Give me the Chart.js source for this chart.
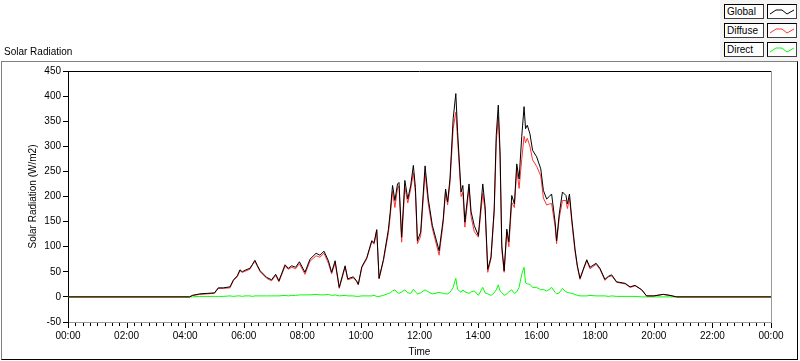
<!DOCTYPE html>
<html>
<head>
<meta charset="utf-8">
<script src="https://cdn.jsdelivr.net/npm/chart.js@4.4.1/dist/chart.umd.min.js"></script>
<style>
  body { margin: 0; background: #fff; }
  #wrap { position: relative; width: 800px; height: 361px; overflow: hidden;
          font-family: 'Liberation Sans', Arial, sans-serif; font-size: 10px; color: #000; }
  #chart { position: absolute; left: 0; top: 0; }
  .panel { position: absolute; left: 1px; top: 61px; width: 797px; height: 299px; box-sizing: border-box;
           border-top: 1px solid #808080; border-left: 1px solid #808080;
           border-right: 1px solid #000; border-bottom: 1px solid #000; pointer-events: none; }
  .graphName { position: absolute; left: 4px; top: 46px; }
  .legendBg { position: absolute; left: 720px; top: 0; width: 80px; height: 61px; background: #f4f4f4; }
  .lgName, .lgLine { position: absolute; box-sizing: border-box; height: 15px; background: #fff;
           border-top: 1px solid #000; border-left: 1px solid #000;
           border-right: 1px solid #404040; border-bottom: 1px solid #404040; }
  .lgName { left: 724px; width: 40px; padding: 1px 0 0 2px; line-height: 12px; }
  .lgLine { left: 767px; width: 30px; }
  .lgLine svg { display: block; }
</style>
</head>
<body>
<div id="wrap">
  <canvas id="chart" width="800" height="361"></canvas>
  <div class="panel"></div>
  <div class="graphName">Solar Radiation</div>
  <div class="legendBg"></div>
  <div id="legend"></div>
</div>
<script>
// time of day in hours
const times = [
  0, 4.15, 4.25, 4.5, 4.75, 5.0, 5.13, 5.3, 5.53, 5.65,
  5.78, 5.87, 5.95, 6.04, 6.21, 6.3, 6.38, 6.47, 6.56, 6.78,
  6.95, 7.09, 7.2, 7.41, 7.52, 7.64, 7.77, 7.9, 8.09, 8.26,
  8.47, 8.6, 8.74, 8.89, 9.0, 9.12, 9.26, 9.46, 9.55, 9.74,
  9.85, 9.91, 10.03, 10.2, 10.37, 10.45, 10.54, 10.62, 10.77, 10.94,
  11.0, 11.08, 11.16, 11.25, 11.3, 11.39, 11.5, 11.6, 11.7, 11.79,
  11.86, 11.93, 12.04, 12.19, 12.3, 12.44, 12.67, 12.81, 12.89, 12.96,
  13.04, 13.15, 13.24, 13.3, 13.42, 13.48, 13.55, 13.69, 13.76, 13.87,
  14.01, 14.16, 14.24, 14.33, 14.44, 14.55, 14.62, 14.69, 14.75, 14.81,
  14.89, 14.98, 15.05, 15.15, 15.24, 15.32, 15.4, 15.49, 15.57, 15.62,
  15.68, 15.77, 15.86, 16.0, 16.14, 16.23, 16.34, 16.43, 16.51, 16.63,
  16.68, 16.77, 16.88, 17.0, 17.05, 17.12, 17.2, 17.31, 17.39, 17.48,
  17.59, 17.71, 17.82, 18.03, 18.16, 18.33, 18.45, 18.56, 18.73, 19.02,
  19.19, 19.36, 19.59, 19.75, 20.0, 20.32, 20.55, 20.78, 24
];

const globalW = [
  0, 0, 3, 6, 7, 8, 18, 18, 20, 34,
  42, 54, 50, 53, 57, 65, 73, 62, 52, 39,
  34, 45, 32, 64, 57, 62, 59, 70, 49, 75,
  87, 83, 91, 72, 49, 72, 19, 62, 36, 40,
  32, 25, 60, 78, 112, 108, 134, 37, 75, 135,
  169, 222, 192, 225, 228, 119, 232, 195, 222, 262,
  218, 112, 129, 261, 195, 142, 92, 155, 215, 189,
  235, 355, 405, 329, 209, 222, 149, 225, 170, 142,
  122, 225, 180, 55, 79, 175, 322, 382, 289, 102,
  52, 135, 110, 202, 185, 265, 235, 319, 379, 335,
  342, 325, 292, 279, 255, 212, 195, 200, 205, 149,
  112, 165, 209, 202, 185, 205, 155, 95, 62, 37,
  55, 74, 59, 67, 57, 35, 41, 44, 30, 27,
  20, 23, 14, 2, 2, 5, 3, 0, 0
];

const diffuseW = [
  0, 0, 3, 5, 6, 7, 17, 17, 18, 33,
  40, 52, 49, 51, 55, 64, 71, 60, 50, 37,
  32, 43, 30, 61, 55, 59, 56, 66, 45, 71,
  82, 79, 87, 67, 46, 68, 17, 59, 34, 38,
  31, 24, 58, 76, 110, 105, 133, 36, 72, 128,
  161, 210, 178, 217, 221, 109, 218, 187, 215, 247,
  208, 106, 121, 247, 185, 136, 83, 148, 209, 183,
  226, 336, 368, 314, 200, 208, 139, 218, 160, 130,
  119, 206, 172, 49, 76, 167, 308, 358, 277, 93,
  49, 129, 100, 188, 178, 255, 216, 274, 320, 307,
  316, 300, 273, 260, 241, 197, 183, 185, 186, 140,
  106, 157, 192, 192, 176, 197, 148, 90, 59, 35,
  53, 72, 56, 65, 55, 33, 40, 42, 29, 26,
  19, 22, 14, 2, 2, 5, 3, 0, 0
];

const directW = [
  0, 0, 0, 1, 1, 1, 1, 1, 2, 1,
  2, 2, 1, 2, 2, 1, 2, 2, 2, 2,
  2, 2, 2, 3, 2, 3, 3, 4, 4, 4,
  5, 4, 4, 5, 3, 4, 2, 3, 2, 2,
  1, 1, 2, 2, 2, 3, 1, 1, 3, 7,
  8, 12, 14, 8, 7, 10, 14, 8, 7, 15,
  10, 6, 8, 14, 10, 6, 9, 7, 6, 6,
  9, 19, 37, 15, 9, 14, 10, 7, 10, 12,
  3, 19, 8, 6, 3, 8, 14, 24, 12, 9,
  3, 6, 10, 14, 7, 10, 19, 45, 59, 28,
  26, 25, 19, 19, 14, 15, 12, 15, 19, 9,
  6, 8, 17, 10, 9, 8, 7, 5, 3, 2,
  2, 2, 3, 2, 2, 2, 1, 2, 1, 1,
  1, 1, 0, 0, 0, 0, 0, 0, 0
];

const seriesNames = ['Global', 'Diffuse', 'Direct'];
const seriesColors = ['#000000', '#ff3333', '#00ff00'];
const yTicks = [-50, 0, 50, 100, 150, 200, 250, 300, 350, 400, 450];

const font = { family: "'Liberation Sans', Arial, sans-serif", size: 10 };

function pts(vals) {
  return times.map((t, i) => ({ x: t, y: vals[i] }));
}

function hhmm(v) {
  const h = Math.round(v) % 24;
  return (h < 10 ? '0' : '') + h + ':00';
}

// top/right edge of the plot and the 15 minute ticks on the time axis
const plotFrame = {
  id: 'plotFrame',
  afterDraw(chart) {
    const ctx = chart.ctx;
    const a = chart.chartArea;
    const x = chart.scales.x;
    ctx.save();
    ctx.lineWidth = 1;
    ctx.strokeStyle = '#000';
    ctx.beginPath();
    ctx.moveTo(a.left, a.top + 0.5);
    ctx.lineTo(a.right, a.top + 0.5);
    ctx.stroke();
    ctx.strokeStyle = '#999';
    ctx.beginPath();
    ctx.moveTo(a.right + 0.5, a.top);
    ctx.lineTo(a.right + 0.5, a.bottom + 1);
    ctx.stroke();
    ctx.strokeStyle = '#000';
    for (let m = 0; m <= 24 * 60; m += 15) {
      const px = Math.round(x.getPixelForValue(m / 60)) + 0.5;
      const len = m % 120 === 0 ? 5 : 3;
      ctx.beginPath();
      ctx.moveTo(px, a.bottom + 1);
      ctx.lineTo(px, a.bottom + 1 + len);
      ctx.stroke();
    }
    ctx.restore();
  }
};

const ctx = document.getElementById('chart').getContext('2d');
new Chart(ctx, {
  type: 'line',
  data: {
    datasets: [
      { label: seriesNames[0], data: pts(globalW), borderColor: seriesColors[0] },
      { label: seriesNames[1], data: pts(diffuseW), borderColor: seriesColors[1] },
      { label: seriesNames[2], data: pts(directW), borderColor: seriesColors[2] }
    ]
  },
  options: {
    responsive: false,
    animation: false,
    elements: {
      line: { borderWidth: 1, tension: 0, fill: false },
      point: { radius: 0 }
    },
    layout: { padding: { top: 71, right: 29, bottom: 0, left: 0 } },
    plugins: { legend: { display: false }, tooltip: { enabled: false } },
    scales: {
      x: {
        type: 'linear',
        min: 0,
        max: 24,
        afterFit: s => { s.height = 39; },
        grid: { display: false, drawTicks: false },
        border: { display: true, color: '#999' },
        ticks: { stepSize: 2, autoSkip: false, maxRotation: 0, padding: 8, color: '#000', font: font, callback: hhmm },
        title: { display: true, text: 'Time', color: '#000', font: font, padding: { top: 0, bottom: 3 } }
      },
      y: {
        min: -50,
        max: 450,
        afterFit: s => { s.width = 68; },
        afterBuildTicks: s => { s.ticks = yTicks.map(v => ({ value: v })); },
        grid: { drawOnChartArea: false, tickLength: 5, color: '#000' },
        border: { color: '#000' },
        ticks: { padding: 2, color: '#000', font: font },
        title: { display: true, text: 'Solar Radiation (W/m2)', color: '#000', font: font, padding: { top: 27, bottom: 0 } }
      }
    }
  },
  plugins: [plotFrame]
});

// legend boxes on the top right
const legend = document.getElementById('legend');
seriesNames.forEach((name, i) => {
  const top = 4 + i * 19;
  legend.innerHTML +=
    '<div class="lgName" style="top:' + top + 'px">' + name + '</div>' +
    '<div class="lgLine" style="top:' + top + 'px"><svg width="28" height="13">' +
    '<polyline points="2,9 8,5 14,5 19,9 26,5" fill="none" stroke="' + seriesColors[i] + '" stroke-width="1"/></svg></div>';
});
</script>
</body>
</html>
